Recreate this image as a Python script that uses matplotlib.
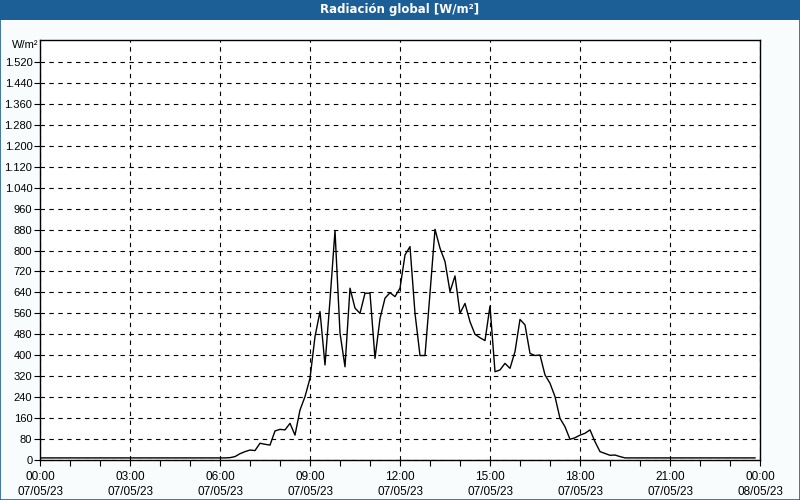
import matplotlib
matplotlib.use("Agg")
import matplotlib.pyplot as plt
import matplotlib.ticker as mticker
from matplotlib.patches import Rectangle
import numpy as np

# ---- data -------------------------------------------------------------
title = "Radiación global [W/m²]"
unit_label = "W/m²"
night_times = ["00:00", "06:10"]
night_values = [8, 8]
day_start = "06:20"          # 10-minute samples from here
day_values = [9, 13, 24, 32, 38, 36, 64, 60, 57, 111, 117, 115, 140, 95,
              191, 242, 312, 471, 567, 363, 611, 876, 485, 356, 656, 580,
              560, 637, 637, 388, 540, 618, 639, 624, 656, 783, 815, 560,
              399, 399, 637, 881, 809, 758, 643, 703, 560, 598, 528, 480,
              467, 456, 588, 337, 344, 369, 350, 414, 537, 516, 407, 399,
              401, 325, 293, 242, 159, 127, 79, 85, 95, 102, 115, 70, 32,
              25, 18, 19, 13, 8]
end_times = ["23:50"]
end_values = [8]
x_tick_labels = ["00:00\n07/05/23", "03:00\n07/05/23", "06:00\n07/05/23",
                 "09:00\n07/05/23", "12:00\n07/05/23", "15:00\n07/05/23",
                 "18:00\n07/05/23", "21:00\n07/05/23", "00:00\n08/05/23"]
y_ticks = list(range(0, 1521, 80))


def to_h(s):
    h, m = s.split(":")
    return int(h) + int(m) / 60.0


t0 = to_h(day_start)
day_times = [t0 + i / 6.0 for i in range(len(day_values))]
times = [to_h(s) for s in night_times] + day_times + [to_h(s) for s in end_times]
values = night_values + day_values + end_values

# ---- figure -----------------------------------------------------------
plt.rcParams['font.family'] = ['Liberation Sans', 'DejaVu Sans']
fig = plt.figure(figsize=(8, 5), dpi=100, facecolor="#f9fcfc")

# title bar
fig.patches.append(Rectangle((0, 1 - 20 / 500), 1, 20 / 500, transform=fig.transFigure,
                             facecolor="#1c5f97", edgecolor="none", zorder=0))
fig.patches.append(Rectangle((0.0006, 0.001), 0.9988, 0.998, transform=fig.transFigure,
                             facecolor="none", edgecolor="#1c5f97", linewidth=1.2, zorder=5))
fig.text(0.5, 1 - 10 / 500, title, color="white", fontsize=8.5, fontweight="bold",
         ha="center", va="center", family=['DejaVu Sans'])

ax = fig.add_axes([40 / 800, 40 / 500, 720 / 800, 420 / 500])
ax.set_facecolor("white")
ax.plot(times, values, color="black", linewidth=1.0)

ax.set_xlim(0, 24)
ax.set_ylim(0, 1604)
ax.set_xticks(np.arange(0, 25, 3))
ax.set_xticklabels(x_tick_labels, linespacing=1.3)
ax.xaxis.set_minor_locator(mticker.MultipleLocator(1))
ax.set_yticks(y_ticks)
ax.set_yticklabels([f"{v:,}".replace(",", ".") for v in y_ticks])

ax.tick_params(axis="both", which="major", labelsize=8, length=4, width=0.8,
               direction="out", color="black", pad=1.5)
ax.tick_params(axis="x", which="minor", length=4, width=0.8, direction="out")
ax.tick_params(axis="x", which="major", pad=4, labelsize=8.5)
for sp in ax.spines.values():
    sp.set_color("black")
    sp.set_linewidth(1.0)

ax.grid(True, which="major", color="black", linestyle=(0, (4, 4)), linewidth=0.8)
ax.set_axisbelow(True)

fig.text(38 / 800, 1 - 45 / 500, unit_label, fontsize=8, ha="right", va="center")

fig.savefig("out.png", dpi=100, facecolor=fig.get_facecolor())
